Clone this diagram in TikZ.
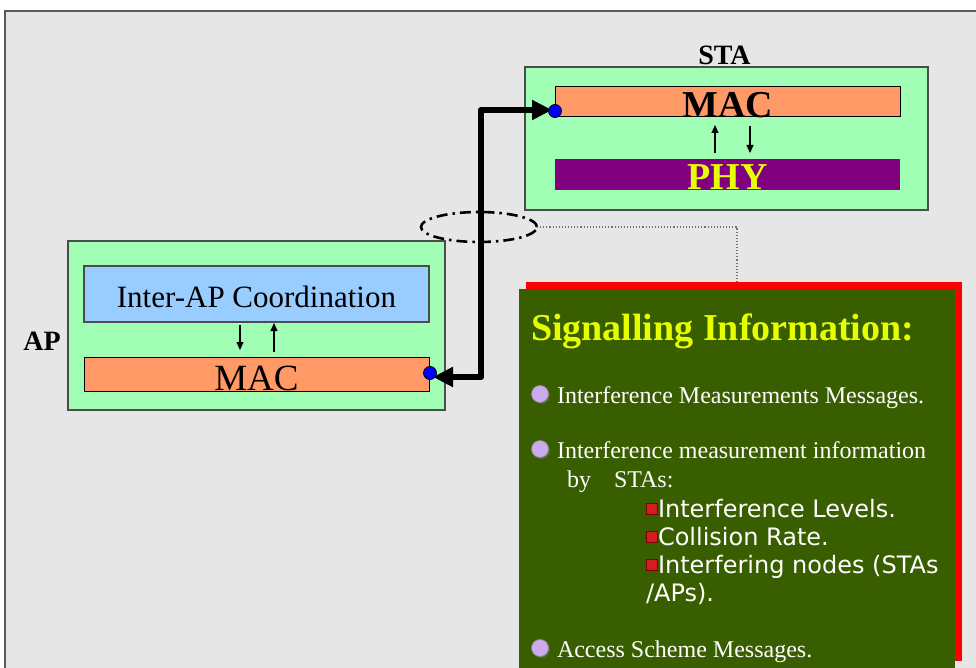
\documentclass[tikz,border=0pt]{standalone}
\usepackage{fontspec}
\setmainfont{Liberation Serif}
\newfontfamily\dejavu{DejaVu Sans}
\usetikzlibrary{arrows.meta,calc,shapes.geometric,shadows}

\definecolor{bggray}{RGB}{230,230,230}
\definecolor{framegray}{RGB}{90,90,90}
\definecolor{layergreen}{RGB}{160,255,180}
\definecolor{macorange}{RGB}{255,153,102}
\definecolor{phypurple}{RGB}{128,0,128}
\definecolor{iapblue}{RGB}{153,204,255}
\definecolor{signalgreen}{RGB}{56,94,0}
\definecolor{signalyellow}{RGB}{230,255,0}
\definecolor{bulletlilac}{RGB}{204,170,238}
\definecolor{bulletred}{RGB}{210,30,30}

\newcommand{\boxlabel}[2]{\raisebox{-#1}[0pt][0pt]{#2}}

\begin{document}
\begin{tikzpicture}
[x=1pt, y=-1pt,
 every node/.style={inner sep=0pt, outer sep=0pt},
 stackbox/.style={draw=black!70, fill=layergreen, line width=1.4pt},
 macbox/.style={draw=black, fill=macorange, line width=1pt,
   minimum width=345pt},
 phybox/.style={fill=phypurple, minimum width=345pt},
 iapbox/.style={draw=black!70, fill=iapblue, line width=1.2pt,
   minimum width=345pt},
 stacklabel/.style={font=\fontsize{28}{30}\selectfont\bfseries},
 sarrow/.style={-{Triangle[length=8pt,width=7pt]}, line width=1.1pt},
 linkline/.style={line width=6.5pt, line join=round,
   {Triangle[length=20pt,width=19pt]}-{Triangle[length=20pt,width=19pt]}},
 linkdot/.style={circle, fill=blue, draw=black, line width=0.8pt,
   minimum size=13pt},
 linkmark/.style={draw, ellipse, line width=2.6pt,
   dash pattern=on 11pt off 5pt on 2.5pt off 5pt,
   minimum width=116pt, minimum height=30pt},
 calloutline/.style={draw=black!55, dotted, line width=1.1pt},
 signalbox/.style={fill=signalgreen, minimum width=436pt, minimum height=379pt,
   drop shadow={shadow xshift=7pt, shadow yshift=7pt, fill=red, opacity=1}},
 sigtitle/.style={anchor=base west, text=signalyellow,
   font=\fontsize{38}{44}\selectfont\bfseries},
 itemtext/.style={anchor=base west, text=white,
   font=\fontsize{24}{28}\selectfont},
 subtext/.style={anchor=base west, text=white,
   font=\dejavu\fontsize{24}{28}\selectfont},
 roundbullet/.style={circle, minimum size=17pt, fill=bulletlilac,
   draw=black!45, line width=0.7pt,
   drop shadow={shadow xshift=1.4pt, shadow yshift=-1.4pt, opacity=.7, fill=black!60}},
 squarebullet/.style={rectangle, minimum size=11pt, fill=bulletred,
   draw=black!50!red, line width=0.6pt}]

\useasboundingbox (0,0) rectangle (976,668);
\fill[white] (0,0) rectangle (976,668);
\fill[bggray] (5,11) rectangle (976,668);
\draw[framegray, line width=1.4pt] (5,668) -- (5,11) -- (976,11);

\node[stackbox, minimum width=403pt, minimum height=143pt] (stastack) at (726.5,138.5) {};
\node[stacklabel] (stalabel) at (724.5,55) {STA};
\node[macbox, minimum height=30pt, font=\fontsize{38}{40}\selectfont\bfseries]
  (stamac) at (727.5,102) {\boxlabel{16pt}{MAC}};
\node[phybox, minimum height=31pt, text=signalyellow, font=\fontsize{38}{40}\selectfont\bfseries]
  (staphy) at (727.5,174.5) {\boxlabel{15.5pt}{PHY}};
\draw[sarrow, shorten <=6pt, shorten >=8pt]
  ([xshift=-12.5pt]staphy.north) -- ([xshift=-12.5pt]stamac.south);
\draw[sarrow, shorten <=9pt, shorten >=6pt]
  ([xshift=22.5pt]stamac.south) -- ([xshift=22.5pt]staphy.north);

\node[stackbox, minimum width=377pt, minimum height=169pt] (apstack) at (256.5,325.5) {};
\node[stacklabel] (aplabel) at (42,341) {AP};
\node[iapbox, minimum height=56pt, font=\fontsize{31}{34}\selectfont]
  (iapcoord) at (256.5,294) {\boxlabel{13pt}{Inter-AP Coordination}};
\node[macbox, minimum height=34pt, font=\fontsize{37}{40}\selectfont]
  (apmac) at (256.5,374) {\boxlabel{16pt}{MAC}};
\draw[sarrow, shorten <=3pt, shorten >=7pt]
  ([xshift=-16.5pt]iapcoord.south) -- ([xshift=-16.5pt]iapcoord.south |- apmac.north);
\draw[sarrow, shorten <=5pt, shorten >=1pt]
  ([xshift=17.5pt]iapcoord.south |- apmac.north) -- ([xshift=17.5pt]iapcoord.south);

\node[signalbox] (sigbox) at (737,478.5) {};
\node[linkmark] (linkmark) at (479,227) {};
\draw[calloutline] (linkmark.east) -| ([yshift=7pt]sigbox.north);

\coordinate (stapin) at ($(stamac.west)+(0,9)$);
\coordinate (appin) at ($(apmac.east)+(1,-1)$);
\coordinate (stalink) at ($(stapin)+(-3,-1)$);
\coordinate (aplink) at ($(appin)+(3,4)$);
\coordinate (linkbend) at ($(aplink)+(48,0)$);
\draw[linkline] (aplink) -- (linkbend) |- (stalink);
\node[linkdot] (stadot) at (stapin) {};
\node[linkdot] (apdot) at (appin) {};

\node[sigtitle] (sigtitle) at (531,340) {Signalling Information:};
\node[itemtext] (item1) at (557,403) {Interference Measurements Messages.};
\node[itemtext] (item2) at (557,458) {Interference measurement information};
\node[itemtext] (item2b) at (567,487) {by\hspace{23pt}STAs:};
\node[subtext] (sub1) at (658,517) {Interference Levels.};
\node[subtext] (sub2) at (658,545) {Collision Rate.};
\node[subtext] (sub3) at (658,573) {Interfering nodes (STAs};
\node[subtext] (sub3b) at (646,601) {/APs).};
\node[itemtext] (item3) at (557,657) {Access Scheme Messages.};

\node[roundbullet] (bul1) at ($(item1.base west)+(-17,-9)$) {};
\node[roundbullet] (bul2) at ($(item2.base west)+(-17,-9)$) {};
\node[roundbullet] (bul3) at ($(item3.base west)+(-17,-9)$) {};
\node[squarebullet] (sq1) at ($(sub1.base west)+(-6.5,-8)$) {};
\node[squarebullet] (sq2) at ($(sub2.base west)+(-6.5,-8)$) {};
\node[squarebullet] (sq3) at ($(sub3.base west)+(-6.5,-8)$) {};
\end{tikzpicture}
\end{document}
